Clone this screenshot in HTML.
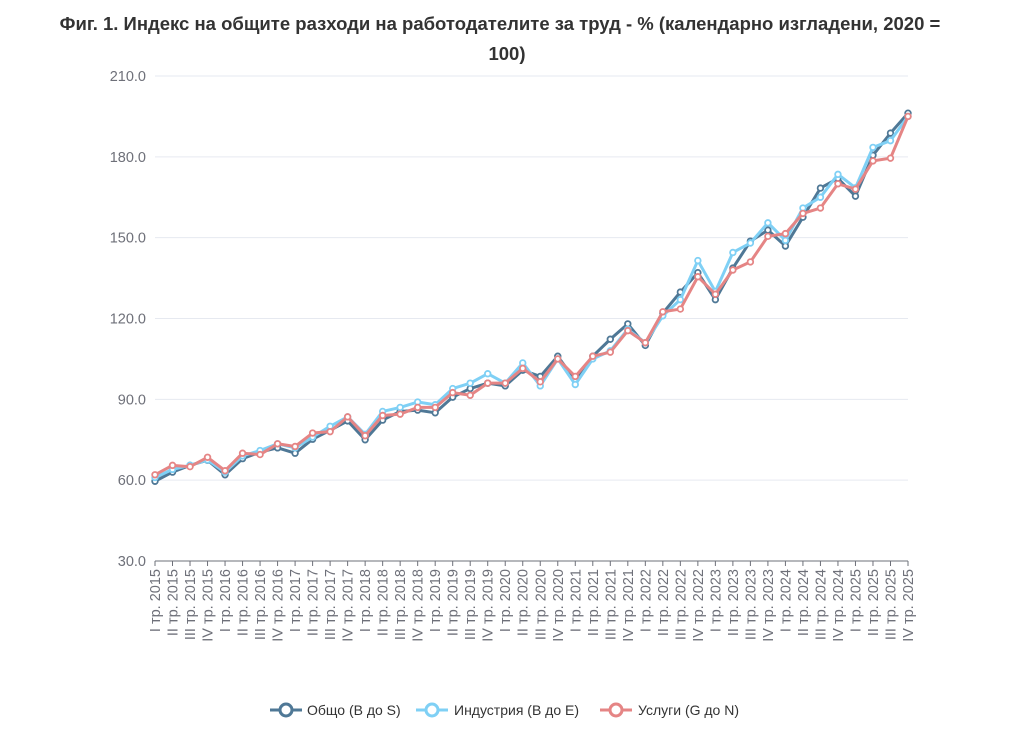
<!DOCTYPE html>
<html><head><meta charset="utf-8"><style>
body{margin:0;background:#fff;font-family:"Liberation Sans","DejaVu Sans",sans-serif;}
</style></head><body>
<svg width="1015" height="738" xmlns="http://www.w3.org/2000/svg" font-family="Liberation Sans, DejaVu Sans, sans-serif">
<text x="500" y="30" text-anchor="middle" font-size="18.5" font-weight="bold" fill="#333">Фиг. 1. Индекс на общите разходи на работодателите за труд - % (календарно изгладени, 2020 =</text>
<text x="507" y="60" text-anchor="middle" font-size="18.5" font-weight="bold" fill="#333">100)</text>
<g id="grid"></g>
<g id="ax"></g>
<g id="series"></g>
<g font-size="14" fill="#333">
<line x1="270" y1="710" x2="302" y2="710" stroke="#4f7896" stroke-width="3"/><circle cx="286" cy="710" r="6" fill="#fff" stroke="#4f7896" stroke-width="3"/>
<text x="307" y="715">Общо (B до S)</text>
<line x1="416" y1="710" x2="448" y2="710" stroke="#7fd0f5" stroke-width="3"/><circle cx="432" cy="710" r="6" fill="#fff" stroke="#7fd0f5" stroke-width="3"/>
<text x="454" y="715">Индустрия (B до E)</text>
<line x1="600" y1="710" x2="632" y2="710" stroke="#e58585" stroke-width="3"/><circle cx="616" cy="710" r="6" fill="#fff" stroke="#e58585" stroke-width="3"/>
<text x="638" y="715">Услуги (G до N)</text>
</g>
</svg>
<script>
const NS="http://www.w3.org/2000/svg";
function el(p,t,a,txt){const e=document.createElementNS(NS,t);for(const k in a)e.setAttribute(k,a[k]);if(txt!==undefined)e.textContent=txt;p.appendChild(e);return e;}
const X0=155,DX=753/43,Y=v=>561-(v-30)*485/180;
const g=document.getElementById('grid'),ax=document.getElementById('ax'),s=document.getElementById('series');
for(let v=30;v<=210;v+=30){const y=Y(v);if(v>30)el(g,'line',{x1:X0,x2:908,y1:y,y2:y,stroke:'#e6e9f0','stroke-width':1});
el(ax,'text',{x:146,y:y+5,'text-anchor':'end','font-size':14.5,fill:'#6e7079'},v.toFixed(1));}
el(ax,'line',{x1:X0,x2:908,y1:561,y2:561,stroke:'#6e7079','stroke-width':1});
const R=['I','II','III','IV'];
for(let i=0;i<44;i++){const x=X0+i*DX;el(ax,'line',{x1:x,x2:x,y1:561,y2:566,stroke:'#6e7079'});
const lab=R[i%4]+' тр. '+(2015+Math.floor(i/4));
el(ax,'text',{x:0,y:0,transform:`translate(${x+5},569) rotate(-90)`,'text-anchor':'end','font-size':14.5,fill:'#6e7079'},lab);}
const d={
'#4f7896':[59.6,63,65.5,67.4,62,68,70.4,72,70,75.2,78.5,82,75,82.3,85.5,86,85,90.8,94,96,95,100.8,98.5,106,97,106,112.3,118,110,122,129.8,137,127,138.7,148.7,152.8,146.9,157.6,168.4,172,165.4,180.6,188.8,196.2],
'#7fd0f5':[61,64,65.5,67.5,63,69,71,73.5,72,76,80,83.5,77,85.5,87,89,88,94,96,99.5,96,103.5,95,105,95.5,105,108,116,111,121,127,141.5,130,144.5,148,155.5,149,161,165,173.5,168.5,183.5,186,195],
'#e58585':[62,65.5,65,68.5,63.5,70,69.5,73.5,72.5,77.5,78,83.5,76.5,84,84.5,87,87,92.5,91.5,96,96,101.5,96.5,105,98.5,106,107.5,115.5,111,122.5,123.5,135.5,129,138,141,150.5,151.5,159,161,170,168,178.5,179.5,195]};
for(const c in d){const pts=d[c].map((v,i)=>[X0+i*DX,Y(v)]);
el(s,'polyline',{points:pts.map(p=>p.join(',')).join(' '),fill:'none',stroke:c,'stroke-width':3,'stroke-linejoin':'round'});
pts.forEach(p=>el(s,'circle',{cx:p[0],cy:p[1],r:2.8,fill:'#fff',stroke:c,'stroke-width':1.8}));}
</script>
</body></html>
